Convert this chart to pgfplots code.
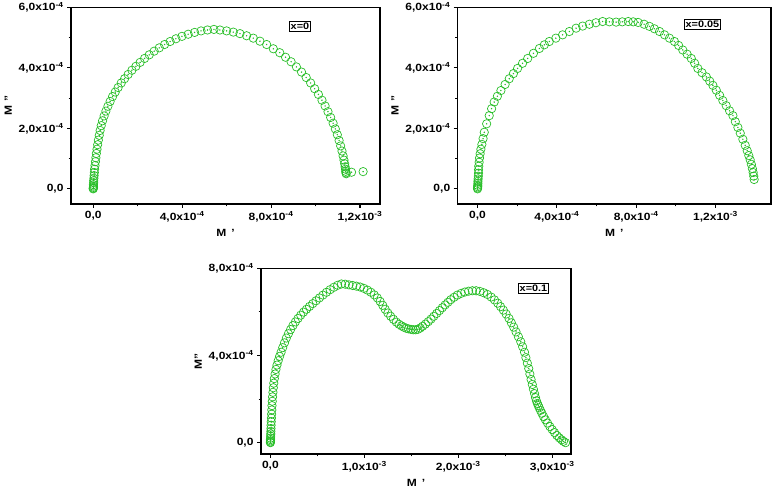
\documentclass[border=0pt]{standalone}
\usepackage{fontspec}
\setmainfont{Liberation Sans}[FakeStretch=1.15]
\usepackage{pgfplots}
\pgfplotsset{compat=1.18}
\definecolor{mk}{RGB}{40,190,40}
\pgfdeclareplotmark{odot}{%
  \pgfpathcircle{\pgfpointorigin}{\pgfplotmarksize}\pgfusepathqstroke
  \pgfpathcircle{\pgfpointorigin}{0.3pt}\pgfusepathqfillstroke}
\pgfplotsset{
  panel/.style={
    scale only axis,
    scaled ticks=false,
    xtick pos=bottom, ytick pos=left,
    tick align=outside,
    axis line style={line width=1.4pt},
    every tick/.style={black, line width=1.1pt},
    major tick length=4pt,
    minor tick length=2.5pt,
    minor x tick num=1, minor y tick num=1,
    ticklabel style={font=\bfseries\fontsize{10.5}{12}\selectfont},
    label style={font=\bfseries\fontsize{10.5}{12}\selectfont},
  },
  pts/.style={only marks, mark=odot, mark size=4.2pt, mark options={draw=mk, fill=mk, line width=0.7pt}},
}
\tikzset{tag/.style={draw=black, line width=0.6pt, fill=white, inner sep=1.5pt, font=\bfseries\fontsize{9.5}{11}\selectfont}}
\begin{document}
\begin{tikzpicture}
\path[use as bounding box] (0,0) rectangle (776bp,493bp);
% ---------- x = 0 ----------
\begin{axis}[panel, name=pa, at={(71bp,289bp)}, anchor=south west, width=309bp, height=196.7bp,
  xmin=-1e-4, xmax=1.29e-3, ymin=-0.5e-4, ymax=6e-4,
  xtick={0,4e-4,8e-4,1.2e-3},
  xticklabels={{0,0},{4,0x10\textsuperscript{-4}},{8,0x10\textsuperscript{-4}},{1,2x10\textsuperscript{-3}}},
  ytick={0,2e-4,4e-4,6e-4},
  yticklabels={{0,0},{2,0x10\textsuperscript{-4}},{4,0x10\textsuperscript{-4}},{6,0x10\textsuperscript{-4}}},
  xlabel={M \,'}, ylabel={M ''}]
\addplot[pts] table[row sep=\\] {x y\\
0 0\\ 0 0.02e-4\\ 0.01e-4 0.05e-4\\ 0.01e-4 0.09e-4\\ 0.01e-4 0.14e-4\\ 0.02e-4 0.2e-4\\ 0.02e-4 0.27e-4\\ 0.03e-4 0.35e-4\\ 0.04e-4 0.44e-4\\ 0.05e-4 0.54e-4\\
0.06e-4 0.65e-4\\ 0.08e-4 0.77e-4\\ 0.1e-4 0.9e-4\\ 0.12e-4 1.03e-4\\ 0.14e-4 1.17e-4\\ 0.17e-4 1.31e-4\\ 0.2e-4 1.46e-4\\ 0.23e-4 1.61e-4\\ 0.27e-4 1.77e-4\\ 0.31e-4 1.93e-4\\
0.36e-4 2.09e-4\\ 0.42e-4 2.25e-4\\ 0.49e-4 2.41e-4\\ 0.57e-4 2.57e-4\\ 0.66e-4 2.73e-4\\ 0.76e-4 2.89e-4\\ 0.87e-4 3.05e-4\\ 0.99e-4 3.2e-4\\ 1.12e-4 3.35e-4\\ 1.26e-4 3.5e-4\\
1.41e-4 3.64e-4\\ 1.57e-4 3.78e-4\\ 1.74e-4 3.92e-4\\ 1.92e-4 4.05e-4\\ 2.11e-4 4.18e-4\\ 2.31e-4 4.31e-4\\ 2.52e-4 4.43e-4\\ 2.74e-4 4.55e-4\\ 2.97e-4 4.66e-4\\ 3.21e-4 4.77e-4\\
3.46e-4 4.87e-4\\ 3.72e-4 4.96e-4\\ 3.99e-4 5.04e-4\\ 4.27e-4 5.11e-4\\ 4.56e-4 5.17e-4\\ 4.85e-4 5.22e-4\\ 5.14e-4 5.25e-4\\ 5.43e-4 5.27e-4\\
5.7e-4 5.25e-4\\ 6.0e-4 5.22e-4\\ 6.3e-4 5.18e-4\\ 6.6e-4 5.13e-4\\ 6.9e-4 5.06e-4\\ 7.2e-4 4.98e-4\\ 7.5e-4 4.88e-4\\ 7.8e-4 4.77e-4\\ 8.1e-4 4.63e-4\\ 8.39e-4 4.5e-4\\
8.65e-4 4.35e-4\\ 8.9e-4 4.2e-4\\ 9.14e-4 4.03e-4\\ 9.37e-4 3.86e-4\\ 9.58e-4 3.68e-4\\ 9.78e-4 3.5e-4\\ 9.96e-4 3.31e-4\\ 10.13e-4 3.12e-4\\ 10.29e-4 2.93e-4\\ 10.43e-4 2.74e-4\\
10.56e-4 2.55e-4\\ 10.68e-4 2.36e-4\\ 10.79e-4 2.17e-4\\ 10.89e-4 1.98e-4\\ 10.98e-4 1.79e-4\\ 11.06e-4 1.6e-4\\ 11.13e-4 1.42e-4\\ 11.19e-4 1.25e-4\\ 11.24e-4 1.09e-4\\ 11.28e-4 0.95e-4\\
11.31e-4 0.83e-4\\ 11.33e-4 0.73e-4\\ 11.35e-4 0.65e-4\\ 11.36e-4 0.58e-4\\ 11.37e-4 0.53e-4\\ 11.38e-4 0.5e-4\\ 11.62e-4 0.55e-4\\ 12.14e-4 0.57e-4\\
};
\node[tag] at (axis description cs:0.741,0.902) {x=0};
\end{axis}
% ---------- x = 0.05 ----------
\begin{axis}[panel, name=pb, at={(457.7bp,289bp)}, anchor=south west, width=313.3bp, height=196.7bp,
  xmin=-1e-4, xmax=1.48e-3, ymin=-0.5e-4, ymax=6e-4,
  xtick={0,4e-4,8e-4,1.2e-3},
  xticklabels={{0,0},{4,0x10\textsuperscript{-4}},{8,0x10\textsuperscript{-4}},{1,2x10\textsuperscript{-3}}},
  ytick={0,2e-4,4e-4,6e-4},
  yticklabels={{0,0},{2,0x10\textsuperscript{-4}},{4,0x10\textsuperscript{-4}},{6,0x10\textsuperscript{-4}}},
  xlabel={M \,'}, ylabel={M ''}]
\addplot[pts] table[row sep=\\] {x y\\
0 0\\ 0 0.03e-4\\ 0.01e-4 0.07e-4\\ 0.01e-4 0.12e-4\\ 0.02e-4 0.18e-4\\ 0.02e-4 0.25e-4\\ 0.03e-4 0.33e-4\\ 0.04e-4 0.42e-4\\ 0.05e-4 0.52e-4\\ 0.05e-4 0.63e-4\\
0.06e-4 0.75e-4\\ 0.08e-4 0.88e-4\\ 0.1e-4 1.02e-4\\ 0.13e-4 1.16e-4\\ 0.17e-4 1.31e-4\\ 0.22e-4 1.47e-4\\ 0.28e-4 1.66e-4\\ 0.34e-4 1.87e-4\\ 0.46e-4 2.15e-4\\ 0.59e-4 2.42e-4\\
0.71e-4 2.65e-4\\ 0.84e-4 2.87e-4\\ 1.0e-4 3.06e-4\\ 1.18e-4 3.25e-4\\ 1.39e-4 3.45e-4\\ 1.6e-4 3.64e-4\\ 1.81e-4 3.81e-4\\ 2.02e-4 3.98e-4\\ 2.27e-4 4.15e-4\\ 2.53e-4 4.31e-4\\
2.82e-4 4.48e-4\\ 3.12e-4 4.64e-4\\ 3.37e-4 4.76e-4\\ 3.62e-4 4.87e-4\\ 3.95e-4 4.98e-4\\ 4.29e-4 5.09e-4\\ 4.63e-4 5.2e-4\\ 4.97e-4 5.31e-4\\ 5.3e-4 5.38e-4\\ 5.64e-4 5.44e-4\\
5.97e-4 5.49e-4\\ 6.31e-4 5.53e-4\\ 6.65e-4 5.52e-4\\ 6.99e-4 5.51e-4\\ 7.3e-4 5.52e-4\\ 7.6e-4 5.53e-4\\ 7.85e-4 5.52e-4\\ 8.1e-4 5.5e-4\\ 8.4e-4 5.44e-4\\ 8.67e-4 5.37e-4\\
8.92e-4 5.29e-4\\ 9.18e-4 5.2e-4\\ 9.43e-4 5.09e-4\\ 9.68e-4 4.98e-4\\ 9.93e-4 4.87e-4\\ 10.14e-4 4.74e-4\\ 10.35e-4 4.59e-4\\ 10.57e-4 4.45e-4\\ 10.78e-4 4.31e-4\\ 10.95e-4 4.15e-4\\
11.11e-4 3.98e-4\\ 11.32e-4 3.84e-4\\ 11.54e-4 3.7e-4\\ 11.71e-4 3.56e-4\\ 11.87e-4 3.42e-4\\ 12.04e-4 3.26e-4\\ 12.21e-4 3.09e-4\\ 12.37e-4 2.92e-4\\ 12.54e-4 2.75e-4\\ 12.71e-4 2.58e-4\\
12.88e-4 2.42e-4\\ 13.0e-4 2.22e-4\\ 13.13e-4 2.03e-4\\ 13.25e-4 1.84e-4\\ 13.38e-4 1.64e-4\\ 13.5e-4 1.44e-4\\ 13.6e-4 1.26e-4\\ 13.68e-4 1.1e-4\\ 13.75e-4 0.96e-4\\ 13.81e-4 0.81e-4\\
13.86e-4 0.67e-4\\ 13.9e-4 0.54e-4\\ 13.93e-4 0.42e-4\\ 13.95e-4 0.31e-4\\
};
\node[tag] at (axis description cs:0.781,0.913) {x=0.05};
\end{axis}
% ---------- x = 0.1 ----------
\begin{axis}[panel, name=pc, at={(261bp,39bp)}, anchor=south west, width=310bp, height=185.7bp,
  xmin=-1e-4, xmax=3.2e-3, ymin=-0.52e-4, ymax=8e-4,
  xtick={0,1e-3,2e-3,3e-3},
  xticklabels={{0,0},{1,0x10\textsuperscript{-3}},{2,0x10\textsuperscript{-3}},{3,0x10\textsuperscript{-3}}},
  ytick={0,4e-4,8e-4},
  yticklabels={{0,0},{4,0x10\textsuperscript{-4}},{8,0x10\textsuperscript{-4}}},
  xlabel={M \,'}, ylabel={M''}]
\addplot[pts] table[row sep=\\] {x y\\
0 0\\ 0 0.03e-4\\ 0.01e-4 0.08e-4\\ 0.01e-4 0.14e-4\\ 0.02e-4 0.21e-4\\ 0.03e-4 0.3e-4\\ 0.04e-4 0.4e-4\\ 0.05e-4 0.52e-4\\ 0.06e-4 0.65e-4\\ 0.07e-4 0.8e-4\\
0.09e-4 0.96e-4\\ 0.11e-4 1.13e-4\\ 0.13e-4 1.31e-4\\ 0.15e-4 1.5e-4\\ 0.17e-4 1.7e-4\\ 0.2e-4 1.9e-4\\ 0.23e-4 2.1e-4\\ 0.27e-4 2.31e-4\\ 0.31e-4 2.52e-4\\ 0.36e-4 2.73e-4\\
0.42e-4 2.94e-4\\ 0.5e-4 3.15e-4\\ 0.59e-4 3.36e-4\\ 0.7e-4 3.56e-4\\ 0.83e-4 3.76e-4\\ 0.98e-4 3.96e-4\\ 1.14e-4 4.15e-4\\ 1.31e-4 4.36e-4\\ 1.5e-4 4.58e-4\\ 1.7e-4 4.8e-4\\
1.92e-4 5.0e-4\\ 2.15e-4 5.19e-4\\ 2.4e-4 5.37e-4\\ 2.66e-4 5.54e-4\\ 2.94e-4 5.7e-4\\ 3.23e-4 5.85e-4\\ 3.53e-4 5.99e-4\\ 3.84e-4 6.12e-4\\ 4.17e-4 6.25e-4\\ 4.51e-4 6.38e-4\\
4.86e-4 6.51e-4\\ 5.22e-4 6.64e-4\\ 5.59e-4 6.77e-4\\ 5.97e-4 6.9e-4\\ 6.36e-4 7.02e-4\\ 6.76e-4 7.13e-4\\ 7.16e-4 7.22e-4\\ 7.56e-4 7.28e-4\\ 7.96e-4 7.27e-4\\ 8.36e-4 7.24e-4\\
8.76e-4 7.21e-4\\ 9.16e-4 7.18e-4\\ 9.56e-4 7.14e-4\\ 9.95e-4 7.08e-4\\ 10.33e-4 7.0e-4\\ 10.7e-4 6.9e-4\\ 11.05e-4 6.78e-4\\ 11.38e-4 6.64e-4\\ 11.68e-4 6.48e-4\\ 11.96e-4 6.3e-4\\
12.22e-4 6.12e-4\\ 12.5e-4 5.95e-4\\ 12.8e-4 5.8e-4\\ 13.1e-4 5.66e-4\\ 13.4e-4 5.53e-4\\ 13.7e-4 5.43e-4\\ 13.95e-4 5.36e-4\\ 14.2e-4 5.3e-4\\ 14.45e-4 5.25e-4\\ 14.7e-4 5.22e-4\\
14.95e-4 5.2e-4\\ 15.2e-4 5.18e-4\\ 15.45e-4 5.18e-4\\ 15.7e-4 5.2e-4\\ 15.95e-4 5.26e-4\\ 16.2e-4 5.34e-4\\ 16.5e-4 5.44e-4\\ 16.8e-4 5.55e-4\\ 17.1e-4 5.67e-4\\ 17.4e-4 5.8e-4\\
17.7e-4 5.93e-4\\ 18.0e-4 6.06e-4\\ 18.3e-4 6.19e-4\\ 18.6e-4 6.32e-4\\ 18.9e-4 6.44e-4\\ 19.2e-4 6.56e-4\\ 19.55e-4 6.67e-4\\ 19.9e-4 6.77e-4\\ 20.3e-4 6.85e-4\\ 20.7e-4 6.91e-4\\
21.1e-4 6.95e-4\\ 21.5e-4 6.97e-4\\ 21.9e-4 6.97e-4\\ 22.3e-4 6.94e-4\\ 22.7e-4 6.88e-4\\ 23.1e-4 6.8e-4\\ 23.5e-4 6.68e-4\\ 23.85e-4 6.55e-4\\ 24.2e-4 6.4e-4\\ 24.5e-4 6.24e-4\\
24.8e-4 6.08e-4\\ 25.1e-4 5.9e-4\\ 25.4e-4 5.7e-4\\ 25.65e-4 5.5e-4\\ 25.9e-4 5.3e-4\\ 26.15e-4 5.08e-4\\ 26.4e-4 4.86e-4\\ 26.65e-4 4.63e-4\\ 26.85e-4 4.4e-4\\ 27.05e-4 4.15e-4\\
27.2e-4 3.9e-4\\ 27.35e-4 3.65e-4\\ 27.5e-4 3.4e-4\\ 27.62e-4 3.15e-4\\ 27.75e-4 2.9e-4\\ 27.88e-4 2.67e-4\\ 28.0e-4 2.45e-4\\ 28.12e-4 2.25e-4\\ 28.22e-4 2.07e-4\\ 28.32e-4 1.92e-4\\
28.42e-4 1.8e-4\\ 28.52e-4 1.7e-4\\ 28.62e-4 1.6e-4\\ 28.75e-4 1.48e-4\\ 28.9e-4 1.35e-4\\ 29.08e-4 1.2e-4\\ 29.28e-4 1.05e-4\\ 29.5e-4 0.9e-4\\ 29.75e-4 0.74e-4\\ 30.0e-4 0.6e-4\\
30.25e-4 0.46e-4\\ 30.5e-4 0.33e-4\\ 30.75e-4 0.22e-4\\ 31.0e-4 0.13e-4\\ 31.2e-4 0.06e-4\\ 31.42e-4 0\\
};
\node[tag] at (axis description cs:0.879,0.891) {x=0.1};
\end{axis}
% frames: top and right edges of each plot box, drawn as thin filled bars
\foreach \p in {pa,pb,pc}{
  \fill[black] ([xshift=-0.7pt,yshift=-0.7pt]\p.north west) rectangle ([xshift=0.7pt,yshift=0.7pt]\p.north east);
  \fill[black] ([xshift=-0.7pt,yshift=-0.7pt]\p.south east) rectangle ([xshift=0.7pt,yshift=0.7pt]\p.north east);
}
\end{tikzpicture}
\end{document}
